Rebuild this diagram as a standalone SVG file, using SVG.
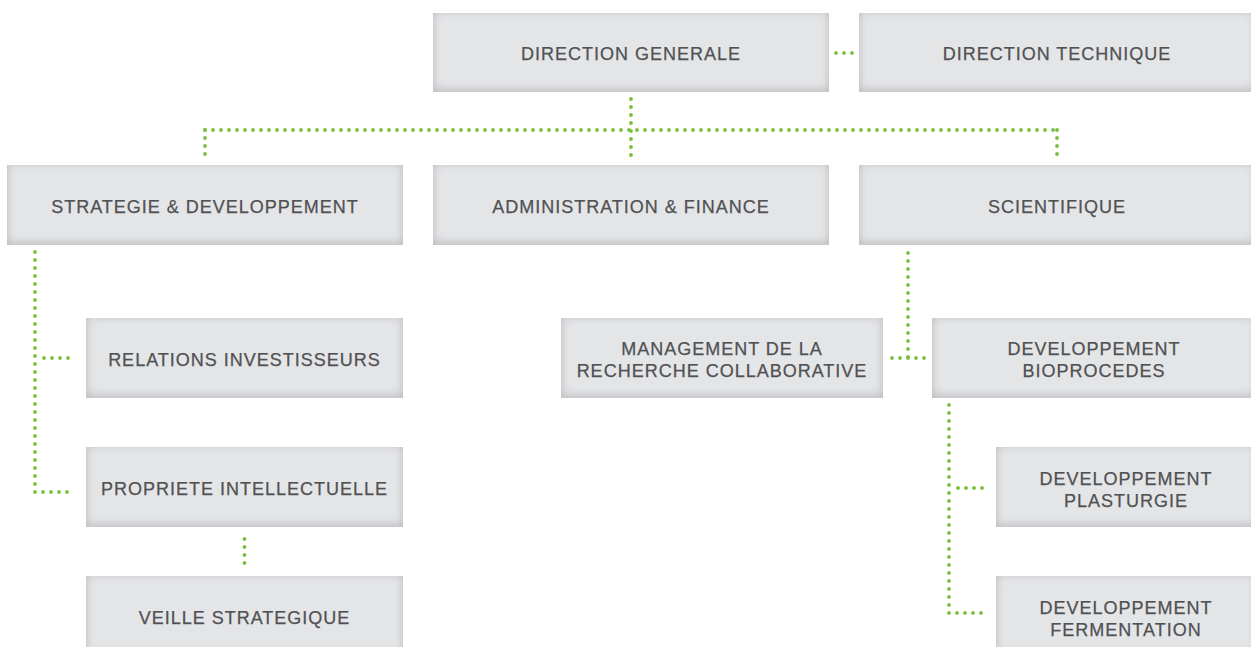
<svg xmlns="http://www.w3.org/2000/svg" width="1251" height="647" viewBox="0 0 1251 647">
  <style>
    .box { fill: #e4e5e7; filter: url(#inset); }
    .label { font-family: "Liberation Sans", Arial, sans-serif; font-size: 18px; letter-spacing: 1px; fill: #505153; text-anchor: middle; stroke: #505153; stroke-width: 0.25; }
    .dots { fill: none; stroke: #78c13f; stroke-width: 3.8; stroke-linecap: round; stroke-dasharray: 0 8; }
  </style>
  <defs>
    <!-- soft inner shadow around each box, heavier at the bottom edge -->
    <filter id="inset" x="-5%" y="-10%" width="110%" height="120%">
      <feFlood flood-color="#8e8f92" flood-opacity="0.65" result="flood"/>
      <feComposite in="flood" in2="SourceAlpha" operator="out" result="outside"/>
      <feOffset in="outside" dy="-2" result="shifted"/>
      <feGaussianBlur in="shifted" stdDeviation="5" result="blur"/>
      <feComposite in="blur" in2="SourceAlpha" operator="in" result="shadow"/>
      <feMerge>
        <feMergeNode in="SourceGraphic"/>
        <feMergeNode in="shadow"/>
      </feMerge>
    </filter>
  </defs>
  <rect width="1251" height="647" fill="#ffffff"/>

  <g id="connectors">
    <path class="dots" d="M836,53 H852.5"/>
    <path class="dots" d="M631,99 V159.5"/>
    <path class="dots" d="M205,130 H1057.5"/>
    <path class="dots" d="M205,130 V158.5"/>
    <path class="dots" d="M1057,130 V158.5"/>
    <path class="dots" d="M35,252 V492 H72.5"/>
    <path class="dots" d="M44,358 H72.5"/>
    <path class="dots" d="M244.5,539 V563.5"/>
    <path class="dots" d="M908,253 V357.5"/>
    <path class="dots" d="M892,358 H924.5"/>
    <path class="dots" d="M949,405 V613 H985.5"/>
    <path class="dots" d="M958,488 H985.5"/>
  </g>

  <g id="direction-generale">
    <rect class="box" x="433" y="13" width="396" height="79"/>
    <text class="label" x="631" y="60">DIRECTION GENERALE</text>
  </g>
  <g id="direction-technique">
    <rect class="box" x="859" y="13" width="396" height="79"/>
    <text class="label" x="1057" y="60">DIRECTION TECHNIQUE</text>
  </g>
  <g id="strategie-developpement">
    <rect class="box" x="7" y="165" width="396" height="80"/>
    <text class="label" x="205" y="213">STRATEGIE &amp; DEVELOPPEMENT</text>
  </g>
  <g id="administration-finance">
    <rect class="box" x="433" y="165" width="396" height="80"/>
    <text class="label" x="631" y="213">ADMINISTRATION &amp; FINANCE</text>
  </g>
  <g id="scientifique">
    <rect class="box" x="859" y="165" width="396" height="80"/>
    <text class="label" x="1057" y="213">SCIENTIFIQUE</text>
  </g>
  <g id="relations-investisseurs">
    <rect class="box" x="86" y="318" width="317" height="80"/>
    <text class="label" x="244.5" y="366">RELATIONS INVESTISSEURS</text>
  </g>
  <g id="propriete-intellectuelle">
    <rect class="box" x="86" y="447" width="317" height="80"/>
    <text class="label" x="244.5" y="495">PROPRIETE INTELLECTUELLE</text>
  </g>
  <g id="veille-strategique">
    <rect class="box" x="86" y="576" width="317" height="80"/>
    <text class="label" x="244.5" y="624">VEILLE STRATEGIQUE</text>
  </g>
  <g id="management-recherche">
    <rect class="box" x="561" y="318" width="322" height="80"/>
    <text class="label" x="722" y="355">MANAGEMENT DE LA</text>
    <text class="label" x="722" y="377">RECHERCHE COLLABORATIVE</text>
  </g>
  <g id="developpement-bioprocedes">
    <rect class="box" x="932" y="318" width="324" height="80"/>
    <text class="label" x="1094" y="355">DEVELOPPEMENT</text>
    <text class="label" x="1094" y="377">BIOPROCEDES</text>
  </g>
  <g id="developpement-plasturgie">
    <rect class="box" x="996" y="447" width="260" height="80"/>
    <text class="label" x="1126" y="485">DEVELOPPEMENT</text>
    <text class="label" x="1126" y="507">PLASTURGIE</text>
  </g>
  <g id="developpement-fermentation">
    <rect class="box" x="996" y="576" width="260" height="80"/>
    <text class="label" x="1126" y="614">DEVELOPPEMENT</text>
    <text class="label" x="1126" y="636">FERMENTATION</text>
  </g>
</svg>
